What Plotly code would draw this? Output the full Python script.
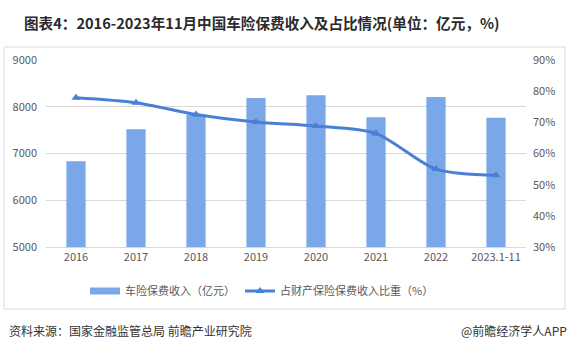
import plotly.graph_objects as go

categories = ["2016", "2017", "2018", "2019", "2020", "2021", "2022", "2023.1-11"]
premium = [6834, 7521, 7834, 8188, 8245, 7773, 8210, 7765]
share = [77.9, 76.3, 72.5, 70.1, 68.8, 66.4, 55.0, 53.0]

FONT = "Noto Sans CJK SC"
BAR_C = "#7aa7e8"
LINE_C = "#4a7fd6"
W, H = 574, 352
L, R, T, B = 46, 48, 60, 105
pw, ph = W - L - R, H - T - B

def px(x):
    return (x - L) / pw

def py(y):
    return (H - B - y) / ph

fig = go.Figure()
fig.add_trace(go.Bar(
    x=categories, y=premium, name="车险保费收入（亿元）", showlegend=False,
    marker=dict(color=BAR_C, line=dict(width=0)), width=0.32,
))
# legend proxy for the bar series (wide rectangle swatch)
fig.add_trace(go.Scatter(
    x=[None], y=[None], name="车险保费收入（亿元）", mode="lines",
    line=dict(color=BAR_C, width=7),
))
fig.add_trace(go.Scatter(
    x=categories, y=share, name="占财产保险保费收入比重（%）", yaxis="y2",
    mode="lines+markers",
    line=dict(color=LINE_C, width=3, shape="spline", smoothing=0.8),
    marker=dict(symbol="triangle-up", size=8, color=LINE_C),
))

fig.update_layout(
    width=W, height=H,
    margin=dict(l=L, r=R, t=T, b=B),
    paper_bgcolor="white", plot_bgcolor="white",
    font=dict(family=FONT, size=11, color="#595959"),
    xaxis=dict(showgrid=False, showline=True, linecolor="#d9d9d9", ticks="",
               tickfont=dict(size=11, color="#595959")),
    yaxis=dict(range=[5000, 9000], dtick=1000, showgrid=True, gridcolor="#d9d9d9",
               zeroline=False, showline=False, ticks="", ticklabelstandoff=8,
               tickfont=dict(size=11, color="#595959")),
    yaxis2=dict(range=[30, 90], dtick=10, overlaying="y", side="right",
                showgrid=False, zeroline=False, ticksuffix="%", ticks="",
                ticklabelstandoff=6, tickfont=dict(size=11, color="#595959")),
    legend=dict(orientation="h", x=px(262), xanchor="center", y=py(291), yanchor="middle",
                font=dict(size=11, color="#595959"), itemwidth=30,
                traceorder="normal"),
    showlegend=True,
)

fig.add_shape(type="rect", xref="paper", yref="paper",
              x0=px(4), x1=px(565), y0=py(309), y1=py(47),
              line=dict(color="#d9d9d9", width=1), fillcolor="rgba(0,0,0,0)", layer="below")

fig.add_annotation(text="<b>图表4：2016-2023年11月中国车险保费收入及占比情况(单位：亿元，%)</b>",
                   xref="paper", yref="paper", x=px(22), y=py(22),
                   xanchor="left", yanchor="middle", showarrow=False,
                   font=dict(family=FONT, size=14.6, color="#2b2b2b"))
fig.add_annotation(text="资料来源：国家金融监管总局 前瞻产业研究院",
                   xref="paper", yref="paper", x=px(7), y=py(330),
                   xanchor="left", yanchor="middle", showarrow=False,
                   font=dict(family=FONT, size=12, color="#333333"))
fig.add_annotation(text="@前瞻经济学人APP",
                   xref="paper", yref="paper", x=px(569), y=py(330),
                   xanchor="right", yanchor="middle", showarrow=False,
                   font=dict(family=FONT, size=12, color="#333333"))

fig.write_html("out.html")
